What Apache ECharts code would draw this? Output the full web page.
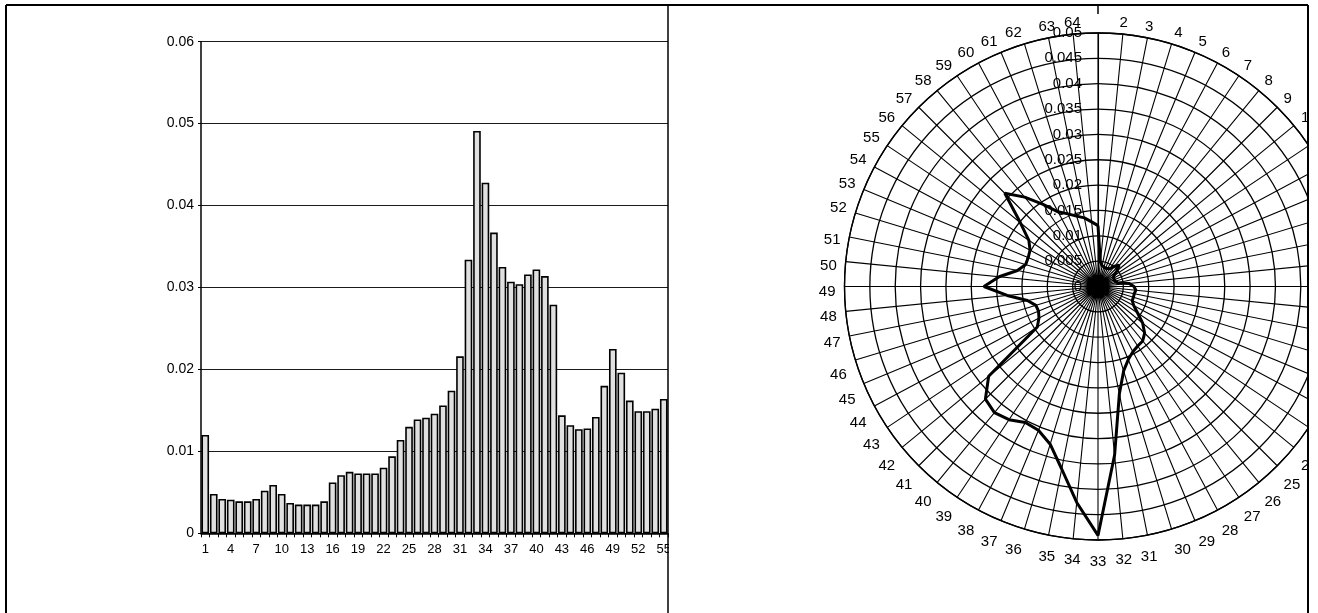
<!DOCTYPE html>
<html>
<head>
<meta charset="utf-8">
<script src="https://cdn.jsdelivr.net/npm/echarts@6/dist/echarts.min.js"></script>
<style>
  html, body { margin: 0; padding: 0; background: #fff; }
  #chart { width: 1318px; height: 613px; }
</style>
</head>
<body>
<div id="chart"></div>
<script>
// Categories 1..64 (spokes of the radar, bars of the histogram)
const categories = ["1","2","3","4","5","6","7","8","9","10","11","12","13","14","15","16",
  "17","18","19","20","21","22","23","24","25","26","27","28","29","30","31","32",
  "33","34","35","36","37","38","39","40","41","42","43","44","45","46","47","48",
  "49","50","51","52","53","54","55","56","57","58","59","60","61","62","63","64"];

// Values
const values = [0.0120,0.0048,0.0042,0.0041,0.0039,0.0039,0.0042,0.0052,
  0.0059,0.0048,0.0037,0.0035,0.0035,0.0035,0.0039,0.0062,
  0.0071,0.0075,0.0073,0.0073,0.0073,0.0080,0.0094,0.0114,
  0.0130,0.0139,0.0141,0.0146,0.0156,0.0174,0.0216,0.0334,
  0.0491,0.0428,0.0367,0.0325,0.0307,0.0304,0.0316,0.0322,
  0.0314,0.0279,0.0144,0.0132,0.0127,0.0128,0.0142,0.0180,
  0.0225,0.0196,0.0162,0.0149,0.0149,0.0152,0.0164,0.0198,
  0.0260,0.0228,0.0195,0.0167,0.0155,0.0145,0.0138,0.0128];

// Axis ticks
const barTicks = [0, 0.01, 0.02, 0.03, 0.04, 0.05, 0.06];
const radarTicks = [0, 0.005, 0.01, 0.015, 0.02, 0.025, 0.03, 0.035, 0.04, 0.045, 0.05];

const FONT = "'Liberation Sans', Arial, sans-serif";
const chart = echarts.init(document.getElementById('chart'), null, { renderer: 'canvas' });

// polar line: [radius, angleIndex], closed back to the first value
const polarData = values.map((v, i) => [v, i]);
polarData.push([values[0], values.length]);

const CX = 1098, CY = 286.5, R = 253.5;

const option = {
  backgroundColor: '#fff',
  animation: false,
  grid: { left: 201, top: 41.7, right: 1318 - 668, bottom: 613 - 533.3, containLabel: false },
  xAxis: {
    type: 'category',
    data: categories,
    max: 54,
    axisLine: { lineStyle: { color: '#000', width: 1.5 } },
    axisTick: { show: true, interval: 0, length: 4, lineStyle: { color: '#000' } },
    axisLabel: { interval: 2, color: '#000', fontFamily: FONT, fontSize: 13, margin: 10 },
    splitLine: { show: false }
  },
  yAxis: {
    type: 'value',
    min: barTicks[0], max: barTicks[barTicks.length - 1], interval: 0.01,
    axisLine: { show: true, lineStyle: { color: '#000', width: 1.5 } },
    axisTick: { show: true, length: 3, lineStyle: { color: '#000' } },
    axisLabel: { color: '#000', fontFamily: FONT, fontSize: 14, margin: 7 },
    splitLine: { show: true, lineStyle: { color: '#1a1a1a', width: 1 } }
  },
  polar: [
    { center: [CX, CY], radius: R },
    { center: [CX, CY + 5], radius: R }
  ],
  angleAxis: [
    {
      polarIndex: 0,
      type: 'value',
      min: 0, max: categories.length, interval: 1,
      startAngle: 90, clockwise: true,
      axisLine: { show: true, lineStyle: { color: '#000', width: 1.3 } },
      axisTick: { show: false },
      axisLabel: { show: false },
      splitLine: { show: true, lineStyle: { color: '#000', width: 1.1 } }
    },
    {
      polarIndex: 1,
      type: 'value',
      min: 0, max: categories.length, interval: 1,
      startAngle: 90, clockwise: true,
      axisLine: { show: false },
      axisTick: { show: false },
      axisLabel: {
        color: '#000', fontFamily: FONT, fontSize: 15, margin: 9,
        formatter: v => (v <= 0 || v >= categories.length) ? '' : categories[v]
      },
      splitLine: { show: false }
    }
  ],
  radiusAxis: [
    {
      polarIndex: 0,
      type: 'value',
      min: radarTicks[0], max: radarTicks[radarTicks.length - 1], interval: 0.005,
      axisLine: { show: true, lineStyle: { color: '#000', width: 1.1 } },
      axisTick: { show: false },
      axisLabel: { color: '#000', fontFamily: FONT, fontSize: 15, margin: 16 },
      splitLine: { show: true, lineStyle: { color: '#000', width: 1.3 } }
    },
    {
      polarIndex: 1,
      type: 'value',
      min: radarTicks[0], max: radarTicks[radarTicks.length - 1],
      show: false
    }
  ],
  series: [
    {
      type: 'bar',
      data: values,
      barCategoryGap: '10%',
      itemStyle: { color: '#e0e0e0', borderColor: '#000', borderWidth: 1.6 }
    },
    {
      type: 'line',
      coordinateSystem: 'polar',
      polarIndex: 0,
      data: polarData,
      showSymbol: false,
      symbol: 'none',
      lineStyle: { color: '#000', width: 3 },
      z: 5
    }
  ],
  graphic: [
    { type: 'rect', z: 100, shape: { x: 669, y: 537, width: 30, height: 28 }, style: { fill: '#fff' } },
    { type: 'rect', z: 99, shape: { x: 1309, y: 0, width: 9, height: 613 }, style: { fill: '#fff' } },
    { type: 'line', z: 101, shape: { x1: 6, y1: 5, x2: 1308, y2: 5 }, style: { stroke: '#000', lineWidth: 2 } },
    { type: 'line', z: 101, shape: { x1: 6, y1: 5, x2: 6, y2: 613 }, style: { stroke: '#000', lineWidth: 2 } },
    { type: 'line', z: 101, shape: { x1: 668, y1: 5, x2: 668, y2: 613 }, style: { stroke: '#000', lineWidth: 1.5 } },
    { type: 'line', z: 101, shape: { x1: 1308, y1: 5, x2: 1308, y2: 613 }, style: { stroke: '#000', lineWidth: 2 } },
    { type: 'line', z: 101, shape: { x1: 1098, y1: 5, x2: 1098, y2: 14 }, style: { stroke: '#000', lineWidth: 1.5 } }
  ]
};
chart.setOption(option);
</script>
</body>
</html>
